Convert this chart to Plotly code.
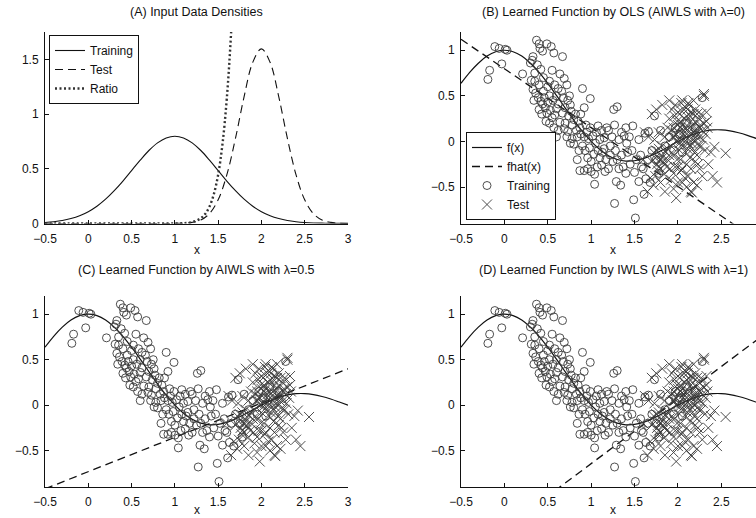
import plotly.graph_objects as go

# ---------------- data ----------------
# (A) densities, sampled on a grid of x
dens_x = [-0.5, -0.4, -0.3, -0.2, -0.1, 0.0, 0.1, 0.2, 0.3, 0.4, 0.5, 0.6, 0.7, 0.8, 0.9, 1.0,
          1.1, 1.2, 1.3, 1.4, 1.5, 1.6, 1.7, 1.8, 1.9, 2.0, 2.1, 2.2, 2.3, 2.4, 2.5, 2.6, 2.7,
          2.8, 2.9, 3.0]
train_density = [0.009, 0.016, 0.027, 0.045, 0.071, 0.108, 0.158, 0.222, 0.300, 0.388, 0.484,
                 0.579, 0.667, 0.737, 0.782, 0.798, 0.782, 0.737, 0.667, 0.579, 0.484, 0.388,
                 0.300, 0.222, 0.158, 0.108, 0.071, 0.045, 0.027, 0.016, 0.009, 0.005, 0.003,
                 0.001, 0.001, 0.000]
test_density = [0.0, 0.0, 0.0, 0.0, 0.0, 0.0, 0.0, 0.0, 0.0, 0.0, 0.0, 0.0, 0.0, 0.0, 0.0, 0.001,
                0.002, 0.010, 0.032, 0.090, 0.216, 0.444, 0.777, 1.159, 1.473, 1.596, 1.473,
                1.159, 0.777, 0.444, 0.216, 0.090, 0.032, 0.010, 0.002, 0.001]
ratio_x = [-0.5, 0.0, 0.5, 0.8, 1.0, 1.1, 1.2, 1.3, 1.35, 1.4, 1.45, 1.5, 1.55, 1.6, 1.65, 1.7, 1.75]
ratio_y = [0.0, 0.0, 0.0, 0.0, 0.001, 0.003, 0.013, 0.048, 0.087, 0.155, 0.267, 0.446, 0.725,
           1.142, 1.747, 2.594, 3.74]

# (B)-(D) true function f(x)
f_x = dens_x
f_y = [0.637, 0.757, 0.858, 0.936, 0.984, 1.0, 0.984, 0.936, 0.858, 0.757, 0.637, 0.505, 0.368,
       0.234, 0.109, 0.0, -0.089, -0.156, -0.198, -0.216, -0.212, -0.189, -0.152, -0.104,
       -0.052, 0.0, 0.047, 0.085, 0.112, 0.126, 0.127, 0.116, 0.095, 0.067, 0.034, 0.0]

# learned linear functions (end points)
fhat_x = [-0.5, 3.0]
fhat_ols = [1.12, -1.14]
fhat_aiwls = [-0.92, 0.40]
fhat_iwls = [-1.71, 0.78]

# samples (x, y)
training = [
    (-0.19, 0.68), (-0.17, 0.78), (-0.11, 1.04), (-0.06, 1.02), (0.01, 1.01), (0.03, 1.0),
    (-0.03, 0.85), (0.21, 0.74),
    (0.37, 1.11), (0.40, 1.07), (0.41, 1.02), (0.44, 0.99), (0.49, 1.07), (0.54, 1.04),
    (0.57, 0.97), (0.67, 0.93), (0.33, 0.93), (0.32, 0.89), (0.30, 0.86), (0.38, 0.84),
    (0.42, 0.79),
    (0.31, 0.67), (0.35, 0.66), (0.40, 0.62), (0.33, 0.57), (0.36, 0.53), (0.39, 0.48),
    (0.42, 0.44), (0.44, 0.41), (0.50, 0.43), (0.47, 0.37), (0.53, 0.34), (0.49, 0.31),
    (0.55, 0.26), (0.48, 0.22), (0.58, 0.29), (0.60, 0.36), (0.62, 0.41), (0.45, 0.55),
    (0.50, 0.60), (0.52, 0.50), (0.56, 0.45),
    (0.64, 0.74), (0.69, 0.69), (0.72, 0.62), (0.66, 0.55), (0.62, 0.58), (0.68, 0.48),
    (0.73, 0.45), (0.75, 0.50), (0.76, 0.40), (0.70, 0.37), (0.67, 0.31), (0.74, 0.28),
    (0.64, 0.21), (0.69, 0.14), (0.73, 0.11), (0.78, 0.18), (0.80, 0.24), (0.82, 0.30),
    (0.85, 0.22), (0.83, 0.12), (0.87, 0.15), (0.78, 0.03), (0.80, -0.03),
    (0.90, 0.58), (0.99, 0.47), (0.92, 0.37), (0.88, 0.08), (0.92, 0.05), (0.95, 0.10),
    (0.97, 0.03), (0.99, 0.15), (1.02, 0.06), (0.90, -0.05), (0.93, -0.10), (0.98, -0.07),
    (1.05, -0.02), (1.08, -0.10), (1.03, -0.14), (0.96, -0.18), (1.00, -0.22), (1.10, -0.18),
    (1.12, -0.26), (0.87, -0.32), (0.92, -0.32), (1.00, -0.33), (1.04, -0.36), (1.04, -0.47),
    (1.08, 0.17), (1.12, 0.12),
    (1.15, -0.08), (1.18, 0.15), (1.22, -0.15), (1.25, -0.22), (1.28, -0.10), (1.27, 0.18),
    (1.26, 0.35), (1.30, 0.38), (1.32, -0.30), (1.29, -0.44), (1.34, -0.48), (1.27, -0.68),
    (1.35, 0.10), (1.38, 0.06), (1.41, -0.02), (1.42, -0.12), (1.45, -0.25), (1.48, 0.17),
    (1.50, -0.34), (1.49, -0.64), (1.51, -0.84), (1.15, 0.04), (1.20, -0.30), (1.17, -0.20),
    (1.30, -0.20), (1.37, -0.28), (1.40, -0.35), (1.20, 0.12), (1.32, 0.02),
    (1.55, -0.44), (1.58, -0.28), (1.61, -0.58), (1.63, -0.41), (1.62, 0.09), (1.66, 0.11),
    (1.70, -0.10), (1.73, 0.28), (1.75, -0.20), (1.78, -0.35), (1.80, 0.12), (1.57, -0.15),
    (1.85, -0.05), (1.90, 0.05), (1.95, -0.10), (1.97, 0.15),
    (2.02, 0.08), (2.05, -0.12), (2.10, 0.20), (2.15, 0.02), (2.20, 0.15), (2.28, 0.48),
    (0.35, 0.75), (0.45, 0.70), (0.52, 0.66), (0.58, 0.62), (0.60, 0.50), (0.46, 0.48),
    (0.43, 0.30), (0.52, 0.20), (0.57, 0.15), (0.62, 0.12), (0.60, 0.05), (0.72, 0.05),
    (0.76, -0.02), (0.84, 0.05), (0.86, -0.10), (0.94, 0.18), (1.06, 0.10), (1.10, 0.02),
    (1.13, -0.12), (1.07, -0.28), (1.16, -0.33), (1.22, -0.05), (1.24, 0.05), (1.35, -0.15),
    (1.40, 0.15), (1.44, 0.05), (1.47, -0.10), (1.52, -0.20), (1.55, 0.02), (1.60, -0.30),
    (1.65, -0.20), (1.68, -0.45), (0.96, -0.30), (0.84, -0.20), (0.88, 0.30), (0.70, 0.20),
    (0.77, 0.33), (0.40, 0.35), (0.34, 0.45), (0.55, 0.78),
]
test = [
    (1.62, 0.10), (1.65, -0.55), (1.70, 0.30), (1.75, 0.35), (1.82, 0.40), (1.85, -0.55),
    (1.90, 0.45), (1.98, -0.62), (2.05, 0.45), (2.12, 0.42), (2.15, -0.55), (2.16, -0.56),
    (2.22, -0.48), (2.28, -0.38), (2.30, 0.52), (2.30, 0.50), (2.33, 0.32), (2.38, -0.12),
    (2.45, -0.45), (2.55, -0.13), (2.42, -0.06), (2.35, -0.25), (1.60, -0.20), (1.68, -0.40),
    (1.72, -0.48), (1.80, -0.45), (1.92, -0.42), (2.08, -0.40), (2.25, -0.30), (2.40, -0.38),
    (1.72, -0.12), (1.74, -0.18), (1.76, -0.25), (1.78, -0.08), (1.80, -0.30), (1.81, -0.15),
    (1.83, -0.22), (1.84, -0.36), (1.77, -0.32), (1.79, -0.20), (1.82, -0.05), (1.86, -0.12),
    (1.87, -0.28), (1.73, 0.02), (1.85, 0.05),
    (1.92, -0.05), (1.94, 0.05), (1.95, 0.15), (1.96, -0.15), (1.98, 0.00), (1.99, 0.22),
    (2.00, -0.08), (2.01, 0.10), (2.02, 0.30), (2.03, -0.20), (2.04, 0.02), (2.05, 0.18),
    (2.06, -0.05), (2.07, 0.12), (2.08, 0.25), (2.09, -0.12), (2.10, 0.05), (2.11, 0.35),
    (2.12, -0.02), (2.13, 0.15), (2.14, -0.18), (2.15, 0.22), (2.16, 0.08), (2.17, -0.08),
    (2.18, 0.30), (2.19, 0.12), (2.20, 0.00), (2.21, 0.20), (2.22, -0.15), (2.23, 0.10),
    (2.24, 0.25), (2.25, 0.05), (2.26, 0.18), (2.27, -0.05), (2.28, 0.12), (2.30, 0.20),
    (2.32, 0.08), (2.34, 0.15),
    (1.90, 0.25), (1.93, 0.35), (1.97, 0.40), (2.00, 0.32), (2.04, 0.42), (2.08, 0.38),
    (2.13, 0.40), (2.18, 0.45),
    (1.88, -0.20), (1.91, -0.30), (1.95, -0.35), (2.00, -0.28), (2.04, -0.32), (2.10, -0.25),
    (2.15, -0.30), (2.20, -0.22), (2.00, -0.45), (2.10, -0.50), (1.95, -0.52),
    (2.02, -0.02), (2.06, 0.08), (2.12, 0.10), (2.16, -0.02), (2.20, 0.08), (2.08, 0.00),
    (1.98, 0.08), (2.03, 0.15), (2.14, 0.28), (2.22, 0.30),
    (1.75, -0.10), (1.78, -0.28), (1.82, -0.18), (1.85, -0.25), (1.88, -0.08), (1.90, -0.15),
    (1.93, 0.12), (1.96, 0.28), (1.99, -0.20), (2.01, 0.02), (2.03, 0.22), (2.05, -0.30),
    (2.07, 0.35), (2.09, 0.15), (2.11, -0.08), (2.13, 0.05), (2.15, 0.32), (2.17, 0.18),
    (2.19, -0.12), (2.21, 0.05), (2.23, -0.25), (2.25, 0.15), (2.27, 0.30), (2.29, 0.02),
    (2.31, -0.10), (2.33, 0.22), (1.70, -0.22), (1.74, -0.38), (1.66, 0.05), (1.78, 0.10),
    (1.88, 0.15), (2.05, -0.45), (2.12, -0.38), (2.18, -0.45), (2.24, -0.05), (1.95, 0.05),
    (2.00, 0.18), (2.10, 0.28), (2.20, 0.35), (1.97, -0.28),
]

titles = ["(A) Input Data Densities",
          "(B) Learned Function by OLS (AIWLS with λ=0)",
          "(C) Learned Function by AIWLS with λ=0.5",
          "(D) Learned Function by IWLS (AIWLS with λ=1)"]
x_ticks = [-0.5, 0, 0.5, 1, 1.5, 2, 2.5, 3]
y_ticks_a = [0, 0.5, 1, 1.5]
y_ticks_f = [-0.5, 0, 0.5, 1]

# ---------------- figure ----------------
W, H = 756, 518
FONT = "Liberation Sans, Arial, Helvetica, sans-serif"
INK = "#111111"
MK = "#3a3a3a"

fig = go.Figure()

# panel A
fig.add_trace(go.Scatter(x=dens_x, y=train_density, mode="lines", name="Training",
                         line=dict(color=INK, width=1.1, shape="spline"),
                         xaxis="x", yaxis="y", legend="legend"))
fig.add_trace(go.Scatter(x=dens_x, y=test_density, mode="lines", name="Test",
                         line=dict(color=INK, width=1.1, dash="8px,5px", shape="spline"),
                         xaxis="x", yaxis="y", legend="legend"))
fig.add_trace(go.Scatter(x=ratio_x, y=ratio_y, mode="lines", name="Ratio",
                         line=dict(color="#333333", width=2.4, dash="2px,2.5px", shape="spline"),
                         xaxis="x", yaxis="y", legend="legend"))

tx = [p[0] for p in training]
ty = [p[1] for p in training]
sx = [p[0] for p in test]
sy = [p[1] for p in test]

panels = [("x2", "y2", fhat_ols, True), ("x3", "y3", fhat_aiwls, False), ("x4", "y4", fhat_iwls, False)]
for xa, ya, fh, show in panels:
    fig.add_trace(go.Scatter(x=f_x, y=f_y, mode="lines", name="f(x)", showlegend=show,
                             line=dict(color=INK, width=1.2, shape="spline"),
                             xaxis=xa, yaxis=ya, legend="legend2"))
    fig.add_trace(go.Scatter(x=fhat_x, y=fh, mode="lines", name="fhat(x)", showlegend=show,
                             line=dict(color=INK, width=1.3, dash="8px,5px"),
                             xaxis=xa, yaxis=ya, legend="legend2"))
    fig.add_trace(go.Scatter(x=tx, y=ty, mode="markers", name="Training", showlegend=show,
                             marker=dict(symbol="circle-open", size=8, color=MK,
                                         line=dict(width=0.9, color=MK)),
                             xaxis=xa, yaxis=ya, legend="legend2"))
    fig.add_trace(go.Scatter(x=sx, y=sy, mode="markers", name="Test", showlegend=show,
                             marker=dict(symbol="x-thin-open", size=10, color=MK,
                                         line=dict(width=0.9, color=MK)),
                             xaxis=xa, yaxis=ya, legend="legend2"))

# pixel geometry
def px_x(p):
    return p / W

def px_y(p):
    return 1 - p / H

left_dom = [px_x(45), px_x(348)]
right_dom = [px_x(461), 1.0]
top_dom = [px_y(223.5), px_y(32)]
bot_dom = [px_y(487), px_y(296)]

axis_common = dict(showline=True, linecolor=INK, linewidth=1, ticks="inside", ticklen=4,
                   tickcolor=INK, tickwidth=1, showgrid=False, zeroline=False, mirror=False,
                   tickfont=dict(family=FONT, size=12, color=INK), automargin=False,
                   fixedrange=True)
xaxis_extra = dict(ticklabelstandoff=4)
yaxis_extra = dict(ticklabelstandoff=3)

layout = dict(
    width=W, height=H, margin=dict(l=0, r=0, t=0, b=0),
    paper_bgcolor="white", plot_bgcolor="white",
    font=dict(family=FONT, size=12, color=INK),
    xaxis=dict(domain=left_dom, range=[-0.5, 3], tickvals=x_ticks, anchor="y", **axis_common, **xaxis_extra),
    yaxis=dict(domain=top_dom, range=[0, 1.75], tickvals=y_ticks_a, anchor="x", **axis_common, **yaxis_extra),
    xaxis2=dict(domain=right_dom, range=[-0.5, 2.9], tickvals=x_ticks, anchor="y2", **axis_common, **xaxis_extra),
    yaxis2=dict(domain=top_dom, range=[-0.9, 1.2], tickvals=y_ticks_f, anchor="x2", **axis_common, **yaxis_extra),
    xaxis3=dict(domain=left_dom, range=[-0.5, 3], tickvals=x_ticks, anchor="y3", **axis_common, **xaxis_extra),
    yaxis3=dict(domain=bot_dom, range=[-0.9, 1.2], tickvals=y_ticks_f, anchor="x3", **axis_common, **yaxis_extra),
    xaxis4=dict(domain=right_dom, range=[-0.5, 2.9], tickvals=x_ticks, anchor="y4", **axis_common, **xaxis_extra),
    yaxis4=dict(domain=bot_dom, range=[-0.9, 1.2], tickvals=y_ticks_f, anchor="x4", **axis_common, **yaxis_extra),
    legend=dict(x=px_x(49), y=px_y(35), xanchor="left", yanchor="top",
                bgcolor="white", bordercolor=INK, borderwidth=1,
                font=dict(family=FONT, size=12, color=INK), tracegroupgap=0),
    legend2=dict(x=px_x(466), y=px_y(220), xanchor="left", yanchor="bottom",
                 bgcolor="white", bordercolor=INK, borderwidth=1,
                 font=dict(family=FONT, size=12, color=INK), tracegroupgap=0),
    showlegend=True,
)
fig.update_layout(**layout)

# titles and x labels
centers = [(45 + 348) / 2, (461 + 765) / 2]
title_pos = [(centers[0], 12), (centers[1], 12), (centers[0], 270), (centers[1], 270)]
for t, (cx, cy) in zip(titles, title_pos):
    fig.add_annotation(text=t, x=px_x(cx), y=px_y(cy), xref="paper", yref="paper",
                       xanchor="center", yanchor="middle", showarrow=False,
                       font=dict(family=FONT, size=12.5, color=INK))
for cx, cy in [(centers[0], 250), (centers[1], 250), (centers[0], 510), (centers[1], 510)]:
    fig.add_annotation(text="x", x=px_x(cx), y=px_y(cy), xref="paper", yref="paper",
                       xanchor="center", yanchor="middle", showarrow=False,
                       font=dict(family=FONT, size=12, color=INK))

fig.write_html(
    "out.html",
    config={"displayModeBar": False},
    post_script="document.body.style.margin='0';document.body.style.padding='0';"
                "document.body.style.overflow='hidden';",
)
